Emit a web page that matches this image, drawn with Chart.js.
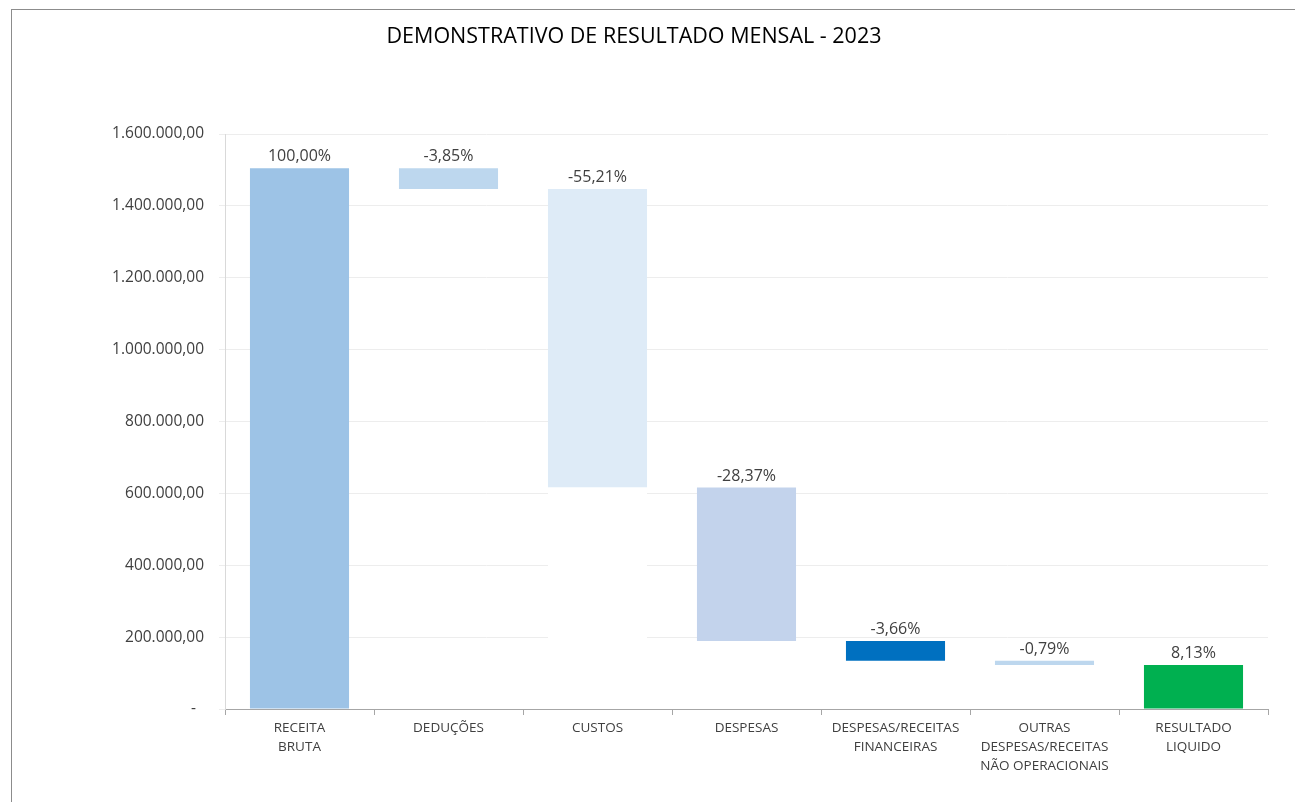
<!DOCTYPE html>
<html>
<head>
<meta charset="utf-8">
<script src="https://cdn.jsdelivr.net/npm/chart.js@4"></script>
<style>
  html, body { margin:0; padding:0; background:#fff; overflow:hidden; }
  #frame { position:absolute; left:11px; top:9px; width:2000px; height:2000px; border:1px solid #8C8C8C; }
  #wrap { position:absolute; left:0; top:0; width:1295px; height:802px; }
</style>
</head>
<body>
<div id="frame"></div>
<div id="wrap"><canvas id="c"></canvas></div>
<script>
const chartTitle = 'DEMONSTRATIVO DE RESULTADO MENSAL - 2023';
const categories = [
  ['RECEITA', 'BRUTA'],
  ['DEDUÇÕES'],
  ['CUSTOS'],
  ['DESPESAS'],
  ['DESPESAS/RECEITAS', 'FINANCEIRAS'],
  ['OUTRAS', 'DESPESAS/RECEITAS', 'NÃO OPERACIONAIS'],
  ['RESULTADO', 'LIQUIDO']
];
// signed amounts: first is gross revenue, middle are reductions, last is the net result (total bar)
const amounts = [1505000, -57900, -830900, -427000, -55100, -11900, 122400];
const isTotal = [true, false, false, false, false, false, true];
const pctLabels = ['100,00%', '-3,85%', '-55,21%', '-28,37%', '-3,66%', '-0,79%', '8,13%'];
const barColors = ['#9DC3E6', '#BDD7EE', '#DEEBF7', '#C3D3EC', '#0070C0', '#BDD7EE', '#00B050'];
const coverColors = ['rgba(0,0,0,0)', 'rgba(0,0,0,0)', '#FFFFFF', 'rgba(0,0,0,0)', 'rgba(0,0,0,0)', 'rgba(0,0,0,0)', 'rgba(0,0,0,0)'];
const yTicks = [0, 200000, 400000, 600000, 800000, 1000000, 1200000, 1400000, 1600000];

// build floating ranges from running total
const ranges = [];
const bases = [];
let running = 0;
amounts.forEach((a, i) => {
  if (isTotal[i]) {
    ranges.push([0, a]);
    running = a;
    bases.push([0, 0]);
  } else {
    const start = running, end = running + a;
    ranges.push([end, start]);
    bases.push([0, Math.min(start, end)]);
    running = end;
  }
});

function fmtBR(v) {
  if (v === 0) return '-  ';
  const s = Math.round(v).toString().replace(/\B(?=(\d{3})+(?!\d))/g, '.');
  return s + ',00';
}

const labelPlugin = {
  id: 'pctLabels',
  afterDatasetsDraw(chart) {
    const ctx = chart.ctx;
    const meta = chart.getDatasetMeta(1);
    ctx.save();
    ctx.font = '16px "Open Sans"';
    ctx.fillStyle = '#404040';
    ctx.textAlign = 'center';
    ctx.textBaseline = 'alphabetic';
    meta.data.forEach((el, i) => {
      const top = Math.min(el.y, el.base);
      ctx.fillText(pctLabels[i], el.x, top - 7);
    });
    ctx.restore();
  }
};

new Chart(document.getElementById('c'), {
  type: 'bar',
  data: {
    labels: categories,
    datasets: [
      {
        label: 'base',
        data: bases,
        backgroundColor: coverColors,
        barPercentage: 0.665,
        categoryPercentage: 1,
        grouped: false,
        borderSkipped: false
      },
      {
        label: 'valor',
        data: ranges,
        backgroundColor: barColors,
        barPercentage: 0.665,
        categoryPercentage: 1,
        grouped: false,
        borderSkipped: false
      }
    ]
  },
  options: {
    responsive: true,
    maintainAspectRatio: false,
    animation: false,
    layout: { padding: { left: 0, right: 27, top: 0, bottom: 0 } },
    plugins: {
      legend: { display: false },
      tooltip: { enabled: false },
      title: {
        display: true,
        text: chartTitle,
        color: '#000000',
        font: { family: 'Open Sans', size: 21.5, weight: 'normal', lineHeight: 1.2 },
        padding: { top: 24, bottom: 84.2 }
      }
    },
    scales: {
      x: {
        grid: { drawOnChartArea: false, drawTicks: true, tickLength: 6, color: '#A6A6A6', offset: true },
        border: { color: '#A6A6A6', width: 1 },
        ticks: {
          color: '#404040',
          font: { family: 'Open Sans', size: 13.5, lineHeight: 1.41 },
          padding: 4,
          maxRotation: 0,
          autoSkip: false
        },
        afterFit(scale) { scale.height = 93; }
      },
      y: {
        min: 0,
        max: 1600000,
        afterBuildTicks(scale) { scale.ticks = yTicks.map(v => ({ value: v })); },
        grid: { color: '#EDEDED', tickLength: 6, drawTicks: true },
        border: { color: '#D9D9D9', width: 1 },
        ticks: {
          color: '#404040',
          font: { family: 'Open Sans', size: 15.5 },
          padding: 15,
          callback: (v) => fmtBR(v)
        },
        afterFit(scale) { scale.width = 225; }
      }
    }
  },
  plugins: [labelPlugin]
});
</script>
</body>
</html>
